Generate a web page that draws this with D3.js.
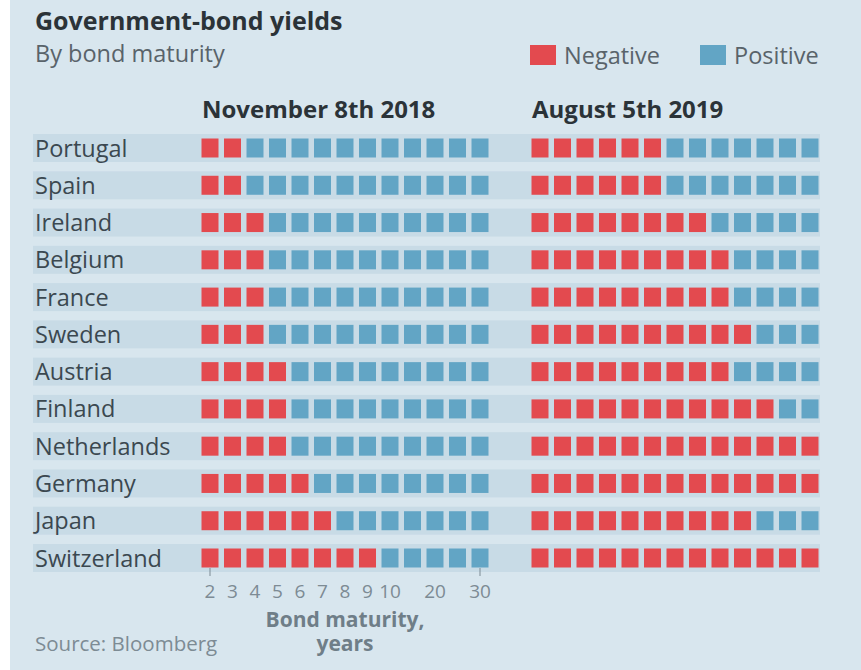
<!DOCTYPE html>
<html>
<head>
<meta charset="utf-8">
<style>
  body { margin: 0; background: #fff; }
  svg text { font-family: "Open Sans", sans-serif; }
</style>
</head>
<body>
<svg width="861" height="670"></svg>
<script src="https://d3js.org/d3.v7.min.js"></script>
<script>
// data
var countries = ["Portugal", "Spain", "Ireland", "Belgium", "France", "Sweden",
  "Austria", "Finland", "Netherlands", "Germany", "Japan", "Switzerland"];
var maturities = [2, 3, 4, 5, 6, 7, 8, 9, 10, 15, 20, 25, 30];
var tickLabels = [2, 3, 4, 5, 6, 7, 8, 9, 10, 20, 30];
// number of maturities (from the shortest) with negative yields
var negative2018 = [2, 2, 3, 3, 3, 3, 4, 4, 4, 5, 6, 8];
var negative2019 = [6, 6, 8, 9, 9, 10, 9, 11, 13, 13, 10, 13];
var panels = [
  { title: "November 8th 2018", neg: negative2018, x0: 210 },
  { title: "August 5th 2019", neg: negative2019, x0: 540 }
];

var red = "#e34a4f", blue = "#62a5c5";
var svg = d3.select("svg");

svg.append("rect").attr("x", 10).attr("y", 0).attr("width", 851).attr("height", 670)
  .attr("fill", "#d8e6ee");

svg.append("text").attr("x", 35).attr("y", 30)
  .attr("font-size", 25).attr("font-weight", "bold").attr("fill", "#2b3338")
  .text("Government-bond yields");
svg.append("text").attr("x", 35).attr("y", 62)
  .attr("font-size", 23.5).attr("fill", "#59636a")
  .text("By bond maturity");

// legend
var legend = svg.append("g");
[["Negative", red, 530], ["Positive", blue, 700]].forEach(function(d) {
  legend.append("rect").attr("x", d[2]).attr("y", 45).attr("width", 26).attr("height", 20).attr("fill", d[1]);
  legend.append("text").attr("x", d[2] + 34).attr("y", 64)
    .attr("font-size", 23.5).attr("fill", "#59636a").text(d[0]);
});

var y = d3.scalePoint().domain(countries).range([148, 558]);

// row bands
svg.selectAll(".band").data(countries).enter().append("rect")
  .attr("x", 33).attr("y", function(d) { return y(d) - 14; })
  .attr("width", 787).attr("height", 28)
  .attr("fill", "#c8dbe6");

svg.selectAll(".country").data(countries).enter().append("text")
  .attr("x", 35).attr("y", function(d) { return y(d) + 8.5; })
  .attr("font-size", 23.5).attr("fill", "#3b4850")
  .text(function(d) { return d; });

panels.forEach(function(p) {
  var x = d3.scalePoint().domain(maturities).range([p.x0, p.x0 + 270]);
  var g = svg.append("g");
  g.append("text").attr("x", p.x0 - 8).attr("y", 118)
    .attr("font-size", 24).attr("font-weight", "bold").attr("fill", "#2b3338")
    .text(p.title);
  countries.forEach(function(c, i) {
    g.selectAll(null).data(maturities).enter().append("rect")
      .attr("x", function(m) { return x(m) - 8.5; })
      .attr("y", y(c) - 9.5)
      .attr("width", 17).attr("height", 19)
      .attr("fill", function(m, j) { return j < p.neg[i] ? red : blue; });
  });
  if (p.x0 === 210) {
    var ax = svg.append("g");
    ax.selectAll("text").data(tickLabels).enter().append("text")
      .attr("x", function(d) { return x(d); }).attr("y", 598)
      .attr("text-anchor", "middle").attr("font-size", 19).attr("fill", "#7d8b94")
      .text(function(d) { return d; });
    ax.selectAll("line").data([maturities[0], maturities[maturities.length - 1]]).enter().append("line")
      .attr("x1", function(d) { return x(d); }).attr("x2", function(d) { return x(d); })
      .attr("y1", 568).attr("y2", 576).attr("stroke", "#7d8b94").attr("stroke-width", 1);
    var lab = ax.append("text").attr("x", 345).attr("y", 627).attr("text-anchor", "middle")
      .attr("font-size", 21).attr("font-weight", "bold").attr("fill", "#6f7e88");
    lab.append("tspan").attr("x", 345).text("Bond maturity,");
    lab.append("tspan").attr("x", 345).attr("dy", 24).text("years");
  }
});

svg.append("text").attr("x", 35).attr("y", 651)
  .attr("font-size", 20.5).attr("fill", "#7d8b94")
  .text("Source: Bloomberg");
</script>
</body>
</html>
